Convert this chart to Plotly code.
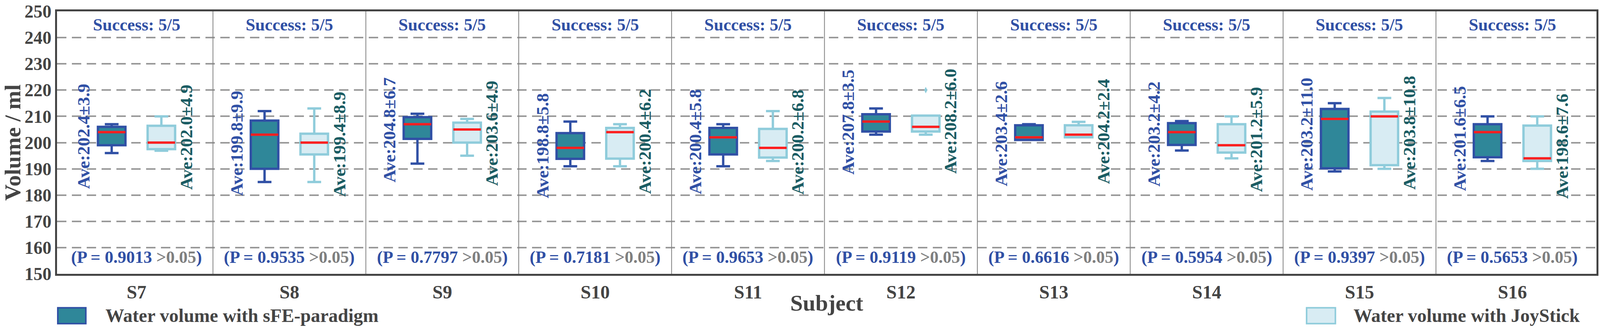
import plotly.graph_objects as go

# ---------------- data ----------------
subjects = ["S7", "S8", "S9", "S10", "S11", "S12", "S13", "S14", "S15", "S16"]

# sFE-paradigm box statistics
sfe_min = [196, 185, 192, 191, 191, 203, 201, 197, 189, 193]
sfe_q1 = [199, 190, 201.4, 193.8, 195.5, 204.2, 201, 199.1, 190.2, 194.4]
sfe_med = [204, 203, 207, 198, 202, 208, 202, 204, 209, 204]
sfe_q3 = [206, 208.4, 209.7, 203.6, 205.6, 210.8, 206.6, 207.4, 212.8, 207]
sfe_max = [207, 212, 211, 208, 207, 213, 207, 208.2, 215, 210]
sfe_ave = [202.4, 199.8, 204.8, 198.8, 200.4, 207.8, 203.4, 203.2, 203.2, 201.6]
sfe_sd = ["3.9", "9.9", "6.7", "5.8", "5.8", "3.5", "2.6", "4.2", "11.0", "6.5"]

# JoyStick box statistics
js_min = [196.9, 185, 195, 191, 193, 203, 202, 194, 190, 190]
js_q1 = [197.5, 195.5, 200, 193.9, 194.3, 204.2, 202, 196.2, 191.4, 193]
js_med = [200, 200, 205, 204, 198, 206, 203, 199, 210, 194]
js_q3 = [206.4, 203.4, 207.6, 205.6, 205.2, 210.3, 206.6, 207, 211.8, 206.5]
js_max = [210, 213, 209, 207, 212, 210.3, 207.9, 210, 217, 210]
js_ave = [202.0, 199.4, 203.6, 200.4, 200.2, 208.2, 204.2, 201.2, 203.8, 198.6]
js_sd = ["4.9", "8.9", "4.9", "6.2", "6.8", "6.0", "2.4", "5.9", "10.8", "7.6"]

# outliers (JoyStick)
js_out_subject = ["S12"]
js_out_value = [220]

p_values = ["0.9013", "0.9535", "0.7797", "0.7181", "0.9653",
            "0.9119", "0.6616", "0.5954", "0.9397", "0.5653"]
success = ["5/5"] * 10

y_ticks = [150, 160, 170, 180, 190, 200, 210, 220, 230, 240, 250]

# ---------------- style ----------------
FONT = "Liberation Serif"
BLUE = "#3050a5"
TEAL = "#2f8799"
LIGHT_EDGE = "#8fccdb"
LIGHT_FILL = "#d8ecf3"
RED = "#ff1f1f"
DARK_TEAL_TXT = "#1a5c63"
GREY_TXT = "#444444"
OFF = 0.1625
BW = 0.18

idx = list(range(len(subjects)))
x_sfe = [i - OFF for i in idx]
x_js = [i + OFF for i in idx]

fig = go.Figure()

fig.add_trace(go.Box(
    x=x_sfe, q1=sfe_q1, median=sfe_med, q3=sfe_q3,
    lowerfence=sfe_min, upperfence=sfe_max,
    width=BW, whiskerwidth=0.5,
    fillcolor=TEAL, line=dict(color=BLUE, width=6),
    boxpoints=False, name="Water volume with sFE-paradigm", showlegend=False,
))
fig.add_trace(go.Box(
    x=x_js, q1=js_q1, median=js_med, q3=js_q3,
    lowerfence=js_min, upperfence=js_max,
    width=BW, whiskerwidth=0.5,
    fillcolor=LIGHT_FILL, line=dict(color=LIGHT_EDGE, width=6),
    boxpoints=False, name="Water volume with JoyStick", showlegend=False,
))

# red median lines
mx, my = [], []
for xs, meds in ((x_sfe, sfe_med), (x_js, js_med)):
    for xc, m in zip(xs, meds):
        mx += [xc - BW / 2, xc + BW / 2, None]
        my += [m, m, None]
fig.add_trace(go.Scatter(x=mx, y=my, mode="lines", line=dict(color=RED, width=6),
                         showlegend=False, hoverinfo="skip"))

# outliers
fig.add_trace(go.Scatter(
    x=[subjects.index(s) + OFF for s in js_out_subject], y=js_out_value,
    mode="markers", marker=dict(symbol="diamond-tall", size=12, color=LIGHT_EDGE),
    showlegend=False))

annotations = []
for i in idx:
    annotations.append(dict(x=i, y=244.9, xref="x", yref="y",
                            text=f"Success: {success[i]}", showarrow=False,
                            font=dict(family=FONT, size=44, color=BLUE, weight="bold")))
    annotations.append(dict(x=i, y=156.3, xref="x", yref="y",
                            text=f"(P = {p_values[i]} <span style='color:#7f7f7f'>&gt;0.05</span>)",
                            showarrow=False,
                            font=dict(family=FONT, size=44, color=BLUE, weight="bold")))
    annotations.append(dict(x=i - 0.345, y=sfe_ave[i], xref="x", yref="y",
                            text=f"Ave:{sfe_ave[i]:.1f}±{sfe_sd[i]}", textangle=-90,
                            showarrow=False,
                            font=dict(family=FONT, size=45, color=BLUE, weight="bold")))
    annotations.append(dict(x=i + 0.326, y=js_ave[i], xref="x", yref="y",
                            text=f"Ave:{js_ave[i]:.1f}±{js_sd[i]}", textangle=-90,
                            showarrow=False,
                            font=dict(family=FONT, size=45, color=DARK_TEAL_TXT, weight="bold")))

# x-axis title
annotations.append(dict(x=0.5, y=-0.1103, xref="paper", yref="paper", xanchor="center",
                        yanchor="middle", showarrow=False, text="Subject",
                        font=dict(family=FONT, size=58, color=GREY_TXT, weight="bold")))

# manual legend
annotations.append(dict(x=0.031, y=-0.1588, xref="paper", yref="paper", xanchor="left",
                        yanchor="middle", showarrow=False,
                        text="Water volume with sFE-paradigm",
                        font=dict(family=FONT, size=48, color=GREY_TXT, weight="bold")))
annotations.append(dict(x=0.9896, y=-0.1588, xref="paper", yref="paper", xanchor="right",
                        yanchor="middle", showarrow=False,
                        text="Water volume with JoyStick",
                        font=dict(family=FONT, size=48, color=GREY_TXT, weight="bold")))

shapes = []
for k in idx[:-1]:
    shapes.append(dict(type="line", x0=k + 0.5, x1=k + 0.5, y0=0, y1=1,
                       xref="x", yref="paper", line=dict(color="#808080", width=2)))
shapes.append(dict(type="rect", x0=0.0005, x1=0.0187, y0=-0.1897, y1=-0.1294,
                   xref="paper", yref="paper", fillcolor=TEAL, line=dict(color=BLUE, width=4)))
shapes.append(dict(type="rect", x0=0.8117, x1=0.8304, y0=-0.1897, y1=-0.1294,
                   xref="paper", yref="paper", fillcolor=LIGHT_FILL,
                   line=dict(color=LIGHT_EDGE, width=4)))

fig.update_layout(
    width=4096, height=841,
    margin=dict(l=141, r=4, t=20, b=141),
    plot_bgcolor="white", paper_bgcolor="white",
    font=dict(family=FONT, color=GREY_TXT),
    annotations=annotations, shapes=shapes,
    showlegend=False,
)
fig.update_xaxes(
    range=[-0.52, 9.55], tickvals=idx, ticktext=subjects,
    tickfont=dict(family=FONT, size=48, color=GREY_TXT, weight="bold"),
    showgrid=False, zeroline=False, showline=True, mirror=True,
    linecolor="#444444", linewidth=5, ticks="",
)
fig.update_yaxes(
    range=[150, 250], tickvals=y_ticks, ticklabeloverflow="allow",
    tickfont=dict(family=FONT, size=46, color=GREY_TXT, weight="bold"),
    showgrid=True, gridcolor="#999999", gridwidth=4, griddash="24px,14px",
    zeroline=False, showline=True, mirror=True,
    linecolor="#444444", linewidth=5, ticks="",
    title=dict(text="Volume / ml", standoff=18,
               font=dict(family=FONT, size=58, color=GREY_TXT, weight="bold")),
)

fig.write_html(
    "out.html",
    config={"displayModeBar": False},
    post_script="document.body.style.margin='0px';document.body.style.overflow='hidden';",
)
